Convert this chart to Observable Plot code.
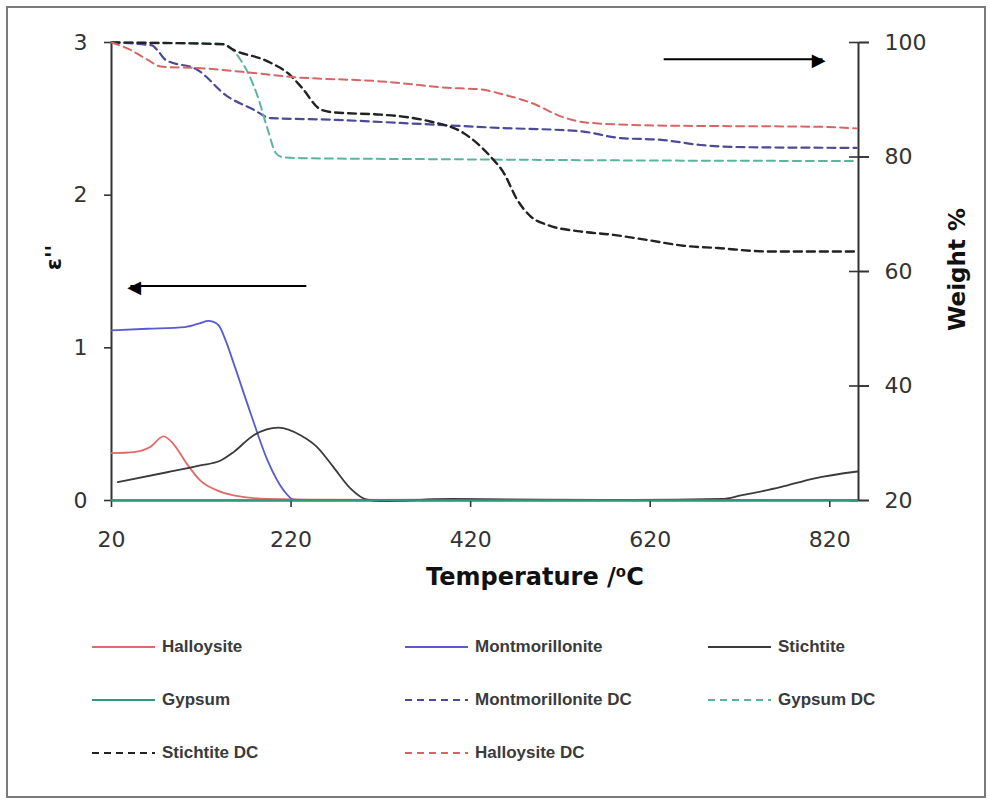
<!DOCTYPE html>
<html><head><meta charset="utf-8">
<script src="https://cdn.jsdelivr.net/npm/d3@7"></script>
<script src="https://cdn.jsdelivr.net/npm/@observablehq/plot@0.6"></script>
<style>
body{margin:0;background:#fff;}
#wrap{position:relative;width:990px;height:803px;overflow:hidden;background:#fff;}
#frame{position:absolute;left:6px;top:6px;width:980px;height:792px;border:2px solid #7a7a7a;box-sizing:border-box;pointer-events:none;}
#chart{position:absolute;left:0;top:0;}
.li{position:absolute;height:20px;display:flex;align-items:center;font-family:"Liberation Sans",Arial,sans-serif;font-weight:bold;font-size:17px;color:#3a3a3a;white-space:nowrap;}
.li svg{display:block;margin-right:7px;}
</style></head>
<body>
<div id="wrap"><div id="chart"></div><div id="frame"></div></div>
<script>
// ---------- data ----------
const xDomain = [20, 852];
const xTicks = [20, 220, 420, 620, 820];
const epsTicks = [0, 1, 2, 3];
const weightTicks = [20, 40, 60, 80, 100];

// dielectric loss (left axis, ε'')
const halloysiteT = [20, 45, 63, 78, 89, 104, 119, 138, 156, 194, 260, 400, 600, 850];
const halloysiteE = [0.31, 0.317, 0.35, 0.42, 0.37, 0.24, 0.13, 0.065, 0.033, 0.01, 0.005, 0.004, 0.003, 0.003];

const montT = [20, 60, 102, 118, 128, 139, 147, 156, 175, 194, 212, 223, 240, 400, 600, 850];
const montE = [1.115, 1.125, 1.136, 1.16, 1.176, 1.15, 1.05, 0.90, 0.57, 0.26, 0.065, 0.006, 0.002, 0.005, 0.003, 0.003];

const stichT = [27, 82, 119, 141, 156, 178, 206, 231, 249, 267, 286, 305, 320, 400, 500, 600, 700, 721, 765, 802, 851];
const stichE = [0.12, 0.185, 0.23, 0.26, 0.317, 0.426, 0.477, 0.426, 0.35, 0.22, 0.08, 0.005, -0.004, 0.01, 0.006, 0.004, 0.01, 0.033, 0.087, 0.144, 0.19];

const gypT = [20, 200, 400, 600, 850];
const gypE = [0.002, 0.002, 0.002, 0.002, 0.002];

// weight loss (right axis, weight %)
const halloDCT = [20, 40, 60, 75, 120, 171, 219, 320, 342, 394, 431, 457, 487, 524, 550, 628, 700, 800, 850];
const halloDCW = [100, 98.8, 97.0, 95.8, 95.5, 94.8, 94.0, 93.2, 92.9, 92.1, 91.8, 90.9, 89.5, 86.9, 86.0, 85.5, 85.4, 85.3, 85.0];

const montDCT = [20, 65, 72, 80, 116, 149, 178, 197, 267, 342, 450, 542, 587, 632, 676, 732, 850];
const montDCW = [100, 99.5, 98.5, 97.0, 95.2, 90.6, 88.3, 86.8, 86.5, 85.95, 85.1, 84.5, 83.3, 83.0, 82.1, 81.7, 81.6];

const gypDCT = [20, 141, 164, 183, 194, 203, 210, 231, 400, 600, 850];
const gypDCW = [100, 99.8, 96.9, 90.5, 84.8, 80.7, 80.0, 79.8, 79.6, 79.4, 79.3];

const stichDCT = [20, 144, 156, 194, 219, 231, 253, 267, 320, 342, 375, 412, 442, 457, 472, 487, 506, 542, 579, 617, 657, 695, 751, 850];
const stichDCW = [100, 99.7, 98.7, 96.7, 94.3, 92.3, 88.3, 87.8, 87.4, 87.1, 86.2, 84.2, 80.1, 77.2, 72.5, 69.6, 68.1, 67.0, 66.4, 65.5, 64.5, 64.1, 63.5, 63.5];

// annotation arrows (data units: temperature, ε'')
const arrowsData = [{x1: 237, x2: 41, y: 1.405, head: "◀", anchor: "start"}, {x1: 635, x2: 812, y: 2.89, head: "▶", anchor: "end"}];

// ---------- styles ----------
const series = [
  {name: "Halloysite", t: halloysiteT, v: halloysiteE, axis: "left", color: "#e06a6a", dash: null, w: 1.8},
  {name: "Montmorillonite", t: montT, v: montE, axis: "left", color: "#5a5ad0", dash: null, w: 1.8},
  {name: "Stichtite", t: stichT, v: stichE, axis: "left", color: "#3a3a3a", dash: null, w: 1.8},
  {name: "Gypsum", t: gypT, v: gypE, axis: "left", color: "#2f9a78", dash: null, w: 2},
  {name: "Montmorillonite DC", t: montDCT, v: montDCW, axis: "right", color: "#4a4a98", dash: "8,5", w: 2.2},
  {name: "Gypsum DC", t: gypDCT, v: gypDCW, axis: "right", color: "#5ab59c", dash: "8,5", w: 2},
  {name: "Stichtite DC", t: stichDCT, v: stichDCW, axis: "right", color: "#222222", dash: "8,5", w: 2.4},
  {name: "Halloysite DC", t: halloDCT, v: halloDCW, axis: "right", color: "#d86565", dash: "8,5", w: 2}
];
const w2e = w => (w - 20) * 3 / 80;   // map weight % onto ε'' scale
const e2w = e => Math.round(20 + e * 80 / 3);

const lineMarks = series.map(s => {
  const rows = s.t.map((t, i) => ({t, y: s.axis === "left" ? s.v[i] : w2e(s.v[i])}));
  return Plot.line(rows, {x: "t", y: "y", stroke: s.color, strokeWidth: s.w,
    strokeDasharray: s.dash || undefined, curve: "monotone-x"});
});

const axisColor = "#333";
const chart = Plot.plot({
  width: 990, height: 600,
  marginLeft: 111, marginRight: 132, marginTop: 42, marginBottom: 100,
  x: {domain: xDomain},
  y: {domain: [0, 3]},
  style: {fontFamily: "DejaVu Sans, Verdana, sans-serif", fontSize: "22px", color: axisColor, background: "transparent", overflow: "visible"},
  marks: [
    Plot.axisX({ticks: xTicks, tickSize: 7, tickPadding: 24, label: null, stroke: axisColor, strokeWidth: 1.6}),
    Plot.axisY({ticks: epsTicks, anchor: "left", tickSize: 7, tickPadding: 17, tickFormat: d3.format("d"), label: null, stroke: axisColor, strokeWidth: 1.6}),
    Plot.axisY({ticks: weightTicks.map(w2e), anchor: "right", tickSize: 20, dx: -10, tickFormat: () => "", label: null, stroke: axisColor, strokeWidth: 1.6}),
    Plot.axisY({ticks: weightTicks.map(w2e), anchor: "right", tickSize: 10, tickPadding: 16, tickFormat: e2w, label: null, stroke: axisColor, strokeWidth: 1.6}),
    Plot.ruleX([xDomain[0]], {stroke: axisColor, strokeWidth: 2}),
    Plot.ruleX([xDomain[1]], {stroke: axisColor, strokeWidth: 2}),
    Plot.ruleY([0], {stroke: axisColor, strokeWidth: 2}),
    ...lineMarks,
    Plot.link(arrowsData, {x1: "x1", x2: "x2", y1: "y", y2: "y", stroke: "#000", strokeWidth: 2}),
    Plot.text(arrowsData.filter(d => d.anchor === "start"), {x: "x2", y: "y", text: "head", textAnchor: "start", fontSize: 18, fill: "#000", dx: -3, dy: 1, lineAnchor: "middle"}),
    Plot.text(arrowsData.filter(d => d.anchor === "end"), {x: "x2", y: "y", text: "head", textAnchor: "end", fontSize: 18, fill: "#000", dx: 3, dy: 1, lineAnchor: "middle"}),
    Plot.text(["Temperature /⁰C"], {frameAnchor: "bottom", textAnchor: "middle", dx: 50, dy: 77, fontWeight: "bold", fontSize: 24, fill: "#111", lineAnchor: "middle"}),
    Plot.text(["Weight %"], {frameAnchor: "right", textAnchor: "middle", dx: 99, dy: -2, rotate: -90, fontWeight: "bold", fontSize: 23, fill: "#111", lineAnchor: "middle"}),
    Plot.text(["ε''"], {frameAnchor: "left", textAnchor: "middle", dx: -58, dy: -14, rotate: -90, fontWeight: "bold", fontSize: 22, fill: "#111", lineAnchor: "middle"})
  ]
});
document.getElementById("chart").appendChild(chart);

// ---------- legend (HTML) ----------
const legendOrder = ["Halloysite", "Montmorillonite", "Stichtite", "Gypsum", "Montmorillonite DC", "Gypsum DC", "Stichtite DC", "Halloysite DC"];
const colX = [92, 405, 708];
const rowY = [637, 690, 743];
const wrap = document.getElementById("wrap");
legendOrder.forEach((name, i) => {
  const s = series.find(d => d.name === name);
  const div = document.createElement("div");
  div.className = "li";
  div.style.left = colX[i % 3] + "px";
  div.style.top = rowY[Math.floor(i / 3)] + "px";
  const sw = d3.create("svg").attr("width", 63).attr("height", 6);
  sw.append("line").attr("x1", 0).attr("x2", 63).attr("y1", 3).attr("y2", 3)
    .attr("stroke", s.color).attr("stroke-width", 2)
    .attr("stroke-dasharray", s.dash ? "7,5" : null);
  div.appendChild(sw.node());
  const span = document.createElement("span");
  span.textContent = name;
  div.appendChild(span);
  wrap.appendChild(div);
});
</script>
</body></html>
